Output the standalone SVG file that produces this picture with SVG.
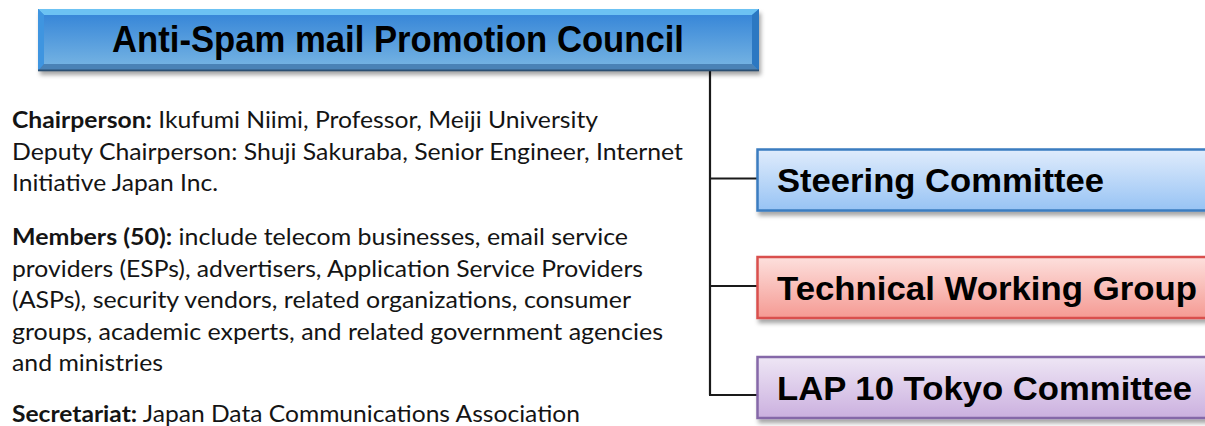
<svg xmlns="http://www.w3.org/2000/svg" width="1205" height="426" viewBox="0 0 1205 426">
  <style>
    .body { font-family: Lato, "Open Sans", "Liberation Sans", sans-serif; font-size: 22.5px; fill: #141414; }
    .b { font-weight: bold; }
    .box-label { font-family: "Liberation Sans", Arial, sans-serif; font-weight: bold; font-size: 33px; fill: #000; }
    .title { font-family: "Liberation Sans", Arial, sans-serif; font-weight: bold; font-size: 37px; fill: #000; }
    .conn { stroke: #1a1a1a; stroke-width: 2.2; fill: none; }
  </style>
  <defs>
    <filter id="shadow" x="-5%" y="-20%" width="110%" height="160%">
      <feDropShadow dx="2" dy="4" stdDeviation="2.2" flood-color="#000" flood-opacity="0.35"/>
    </filter>
    <linearGradient id="gTitle" x1="0" y1="0" x2="0" y2="1">
      <stop offset="0" stop-color="#3887d8"/>
      <stop offset="1" stop-color="#72b1e2"/>
    </linearGradient>
    <linearGradient id="gBlue" x1="0" y1="0" x2="0" y2="1">
      <stop offset="0" stop-color="#e0ecfc"/>
      <stop offset="1" stop-color="#97c3f4"/>
    </linearGradient>
    <linearGradient id="gRed" x1="0" y1="0" x2="0" y2="1">
      <stop offset="0" stop-color="#fde0dd"/>
      <stop offset="1" stop-color="#f59a93"/>
    </linearGradient>
    <linearGradient id="gPurple" x1="0" y1="0" x2="0" y2="1">
      <stop offset="0" stop-color="#eee6f5"/>
      <stop offset="1" stop-color="#cbb0df"/>
    </linearGradient>
  </defs>

  <!-- Connectors -->
  <g id="connectors">
    <path class="conn" d="M710,70 V395"/>
    <path class="conn" d="M709,178.5 H757"/>
    <path class="conn" d="M709,286 H757"/>
    <path class="conn" d="M709,395 H757"/>
  </g>

  <!-- Title node -->
  <g id="council">
    <g filter="url(#shadow)">
      <rect x="38" y="9" width="721" height="62" fill="#3b8ddb"/>
    </g>
    <rect x="44" y="15" width="708" height="49" fill="url(#gTitle)"/>
    <polygon points="38,9 759,9 752,15 44,15" fill="#6cc2f3"/>
    <polygon points="38,9 44,15 44,64 38,71" fill="#3f95e0"/>
    <polygon points="759,9 759,71 752,64 752,15" fill="#2c78c2"/>
    <polygon points="38,71 759,71 752,64 44,64" fill="#4a82b6"/>
    <rect x="38" y="69.5" width="721" height="1.8" fill="#2b4f72"/>
    <text class="title" x="398" y="52" text-anchor="middle" textLength="572" lengthAdjust="spacingAndGlyphs">Anti-Spam mail Promotion Council</text>
  </g>

  <!-- Description text -->
  <g id="description">
    <text class="body" x="12" y="128" textLength="586" lengthAdjust="spacingAndGlyphs"><tspan class="b">Chairperson:</tspan> Ikufumi Niimi, Professor, Meiji University</text>
    <text class="body" x="12" y="160" textLength="671" lengthAdjust="spacingAndGlyphs">Deputy Chairperson: Shuji Sakuraba, Senior Engineer, Internet</text>
    <text class="body" x="12" y="191" textLength="206" lengthAdjust="spacingAndGlyphs">Initiative Japan Inc.</text>
    <text class="body" x="12" y="245" textLength="616" lengthAdjust="spacingAndGlyphs"><tspan class="b">Members (50):</tspan> include telecom businesses, email service</text>
    <text class="body" x="12" y="277" textLength="631" lengthAdjust="spacingAndGlyphs">providers (ESPs), advertisers, Application Service Providers</text>
    <text class="body" x="12" y="308" textLength="619" lengthAdjust="spacingAndGlyphs">(ASPs), security vendors, related organizations, consumer</text>
    <text class="body" x="12" y="340" textLength="651" lengthAdjust="spacingAndGlyphs">groups, academic experts, and related government agencies</text>
    <text class="body" x="12" y="371" textLength="151" lengthAdjust="spacingAndGlyphs">and ministries</text>
    <text class="body" x="12" y="422" textLength="568" lengthAdjust="spacingAndGlyphs"><tspan class="b">Secretariat:</tspan> Japan Data Communications Association</text>
  </g>

  <!-- Steering Committee -->
  <g id="steering">
    <rect x="757.5" y="149.5" width="470" height="61" fill="url(#gBlue)" stroke="#3a7cc0" stroke-width="2.5" filter="url(#shadow)"/>
    <text class="box-label" x="777" y="192" textLength="327" lengthAdjust="spacingAndGlyphs">Steering Committee</text>
  </g>

  <!-- Technical Working Group -->
  <g id="technical">
    <rect x="757.5" y="257" width="470" height="61" fill="url(#gRed)" stroke="#d9504d" stroke-width="2.5" filter="url(#shadow)"/>
    <text class="box-label" x="777" y="300" textLength="420" lengthAdjust="spacingAndGlyphs">Technical Working Group</text>
  </g>

  <!-- LAP 10 Tokyo Committee -->
  <g id="lap10">
    <rect x="757.5" y="357" width="470" height="61" fill="url(#gPurple)" stroke="#8568a8" stroke-width="2.5" filter="url(#shadow)"/>
    <text class="box-label" x="777" y="399.5" textLength="415" lengthAdjust="spacingAndGlyphs">LAP 10 Tokyo Committee</text>
  </g>
</svg>
